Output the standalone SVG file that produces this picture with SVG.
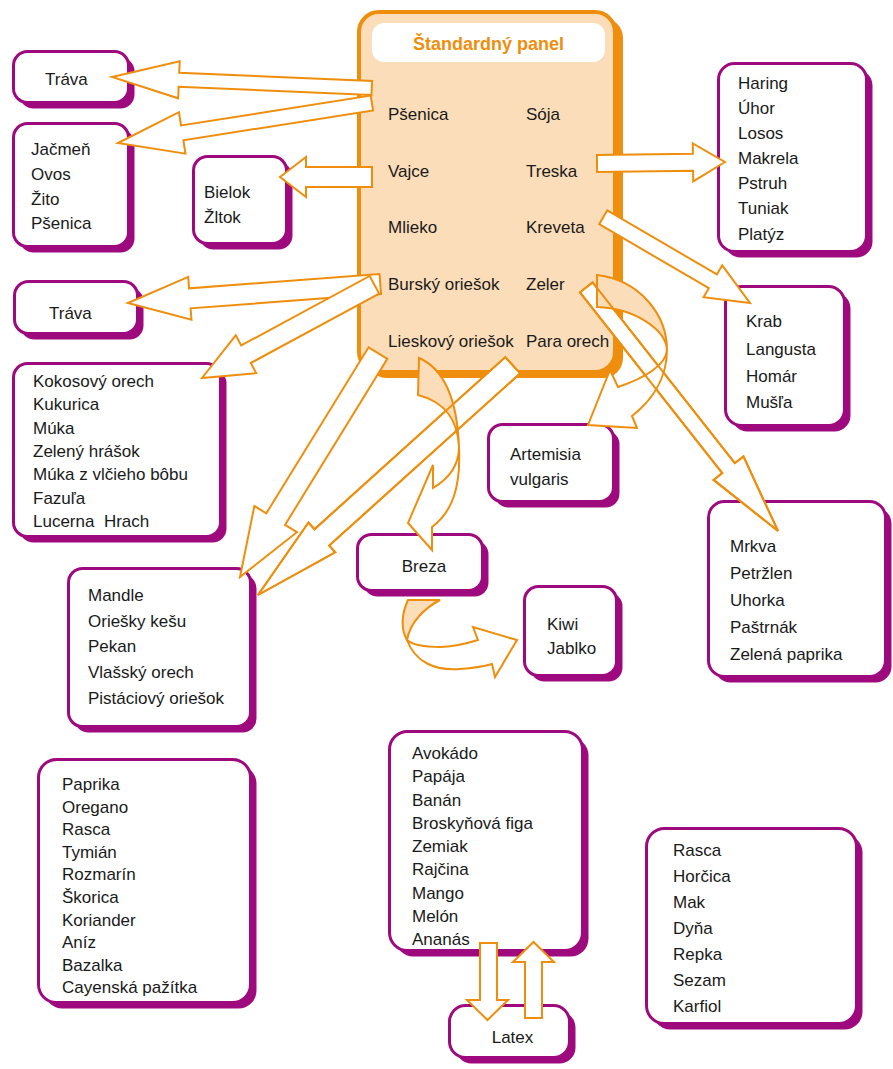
<svg xmlns="http://www.w3.org/2000/svg" xmlns:xlink="http://www.w3.org/1999/xlink" width="893" height="1069" viewBox="0 0 893 1069">
<style>
.sh{fill:#9E0A7E}
.bx{fill:#ffffff;stroke:#9E0A7E;stroke-width:3}
.t{font-family:"Liberation Sans",Arial,sans-serif;font-size:17px;fill:#1a1a1a}
.tc{text-anchor:middle}
.ttl{font-family:"Liberation Sans",Arial,sans-serif;font-size:18px;font-weight:bold;fill:#EF8E0C;text-anchor:middle}
.sa{fill:#ffffff;stroke:#EF8E0C;stroke-width:2;stroke-linejoin:miter}
.cp{fill:#FBDDB9;stroke:#EF8E0C;stroke-width:2}
.cw{fill:#ffffff;stroke:#EF8E0C;stroke-width:2}
.ol{fill:none;stroke:#EF8E0C;stroke-width:2}
</style>
<rect width="893" height="1069" fill="#ffffff"/>

<g id="panel">
  <rect x="367" y="18" width="256" height="360" rx="20" fill="#EF8E0C"/>
  <rect x="359" y="12" width="256" height="360" rx="20" fill="#FBDDB9" stroke="#EF8E0C" stroke-width="4"/>
  <rect x="372" y="23" width="233" height="39" rx="12" fill="#ffffff"/>
  <text class="ttl" x="488.5" y="50">Štandardný panel</text>
  <text class="t" x="388" y="120">Pšenica</text>
  <text class="t" x="388" y="177">Vajce</text>
  <text class="t" x="388" y="233">Mlieko</text>
  <text class="t" x="388" y="290">Burský oriešok</text>
  <text class="t" x="388" y="347">Lieskový oriešok</text>
  <text class="t" x="526" y="120">Sója</text>
  <text class="t" x="526" y="177">Treska</text>
  <text class="t" x="526" y="233">Kreveta</text>
  <text class="t" x="526" y="290">Zeler</text>
  <text class="t" x="526" y="347">Para orech</text>
</g>

<g id="trava1">
  <rect class="sh" x="19.5" y="57.5" width="115" height="51" rx="14"/>
  <rect class="bx" x="13.5" y="51.5" width="115" height="51" rx="14"/>
  <text class="t" x="45" y="85">Tráva</text>
</g>
<g id="obilniny">
  <rect class="sh" x="19.5" y="129.5" width="115" height="123" rx="14"/>
  <rect class="bx" x="13.5" y="123.5" width="115" height="123" rx="14"/>
  <text class="t" x="31" y="155">Jačmeň</text>
  <text class="t" x="31" y="180">Ovos</text>
  <text class="t" x="31" y="205">Žito</text>
  <text class="t" x="31" y="229">Pšenica</text>
</g>
<g id="bielok">
  <rect class="sh" x="199.5" y="162.5" width="93" height="87" rx="14"/>
  <rect class="bx" x="193.5" y="156.5" width="93" height="87" rx="14"/>
  <text class="t" x="204" y="198">Bielok</text>
  <text class="t" x="204" y="223">Žltok</text>
</g>
<g id="trava2">
  <rect class="sh" x="20.5" y="287.5" width="123" height="52" rx="14"/>
  <rect class="bx" x="14.5" y="281.5" width="123" height="52" rx="14"/>
  <text class="t" x="49" y="319">Tráva</text>
</g>
<g id="strukoviny">
  <rect class="sh" x="19.5" y="369.5" width="207" height="173" rx="14"/>
  <rect class="bx" x="13.5" y="363.5" width="207" height="173" rx="14"/>
  <text class="t" x="33" y="387">Kokosový orech</text>
  <text class="t" x="33" y="410.3">Kukurica</text>
  <text class="t" x="33" y="433.6">Múka</text>
  <text class="t" x="33" y="457">Zelený hrášok</text>
  <text class="t" x="33" y="480.3">Múka z vlčieho bôbu</text>
  <text class="t" x="33" y="503.6">Fazuľa</text>
  <text class="t" x="33" y="527" xml:space="preserve">Lucerna  Hrach</text>
</g>
<g id="orechy">
  <rect class="sh" x="74.5" y="574.5" width="182" height="158" rx="14"/>
  <rect class="bx" x="68.5" y="568.5" width="182" height="158" rx="14"/>
  <text class="t" x="88" y="601">Mandle</text>
  <text class="t" x="88" y="627">Oriešky kešu</text>
  <text class="t" x="88" y="652">Pekan</text>
  <text class="t" x="88" y="678">Vlašský orech</text>
  <text class="t" x="88" y="704">Pistáciový oriešok</text>
</g>
<g id="breza">
  <rect class="sh" x="363.5" y="540.5" width="125" height="56" rx="14"/>
  <rect class="bx" x="357.5" y="534.5" width="125" height="56" rx="14"/>
  <text class="t tc" x="424" y="572">Breza</text>
</g>
<g id="kiwi">
  <rect class="sh" x="530.5" y="592.5" width="92" height="89" rx="14"/>
  <rect class="bx" x="524.5" y="586.5" width="92" height="89" rx="14"/>
  <text class="t" x="547" y="630">Kiwi</text>
  <text class="t" x="547" y="654">Jablko</text>
</g>
<g id="artemisia">
  <rect class="sh" x="494.5" y="430.5" width="125" height="77" rx="14"/>
  <rect class="bx" x="488.5" y="424.5" width="125" height="77" rx="14"/>
  <text class="t" x="510" y="460">Artemisia</text>
  <text class="t" x="510" y="485">vulgaris</text>
</g>
<g id="ryby">
  <rect class="sh" x="724.5" y="69.5" width="148" height="188" rx="16"/>
  <rect class="bx" x="718.5" y="63.5" width="148" height="188" rx="16"/>
  <text class="t" x="738" y="89">Haring</text>
  <text class="t" x="738" y="114">Úhor</text>
  <text class="t" x="738" y="139">Losos</text>
  <text class="t" x="738" y="164">Makrela</text>
  <text class="t" x="738" y="189">Pstruh</text>
  <text class="t" x="738" y="214">Tuniak</text>
  <text class="t" x="738" y="240">Platýz</text>
</g>
<g id="korysy">
  <rect class="sh" x="731.5" y="292.5" width="119" height="139" rx="16"/>
  <rect class="bx" x="725.5" y="286.5" width="119" height="139" rx="16"/>
  <text class="t" x="746" y="327">Krab</text>
  <text class="t" x="746" y="355">Langusta</text>
  <text class="t" x="746" y="382">Homár</text>
  <text class="t" x="746" y="408">Mušľa</text>
</g>
<g id="zelenina">
  <rect class="sh" x="714.5" y="507.5" width="177" height="175" rx="16"/>
  <rect class="bx" x="708.5" y="501.5" width="177" height="175" rx="16"/>
  <text class="t" x="730" y="552">Mrkva</text>
  <text class="t" x="730" y="579">Petržlen</text>
  <text class="t" x="730" y="606">Uhorka</text>
  <text class="t" x="730" y="633">Paštrnák</text>
  <text class="t" x="730" y="660">Zelená paprika</text>
</g>
<g id="koreniny">
  <rect class="sh" x="44.5" y="765.5" width="212" height="243" rx="18"/>
  <rect class="bx" x="38.5" y="759.5" width="212" height="243" rx="18"/>
  <text class="t" x="62" y="790">Paprika</text>
  <text class="t" x="62" y="812.6">Oregano</text>
  <text class="t" x="62" y="835.2">Rasca</text>
  <text class="t" x="62" y="857.8">Tymián</text>
  <text class="t" x="62" y="880.4">Rozmarín</text>
  <text class="t" x="62" y="903">Škorica</text>
  <text class="t" x="62" y="925.6">Koriander</text>
  <text class="t" x="62" y="948.2">Aníz</text>
  <text class="t" x="62" y="970.8">Bazalka</text>
  <text class="t" x="62" y="993.4">Cayenská pažítka</text>
</g>
<g id="ovocie">
  <rect class="sh" x="395.5" y="737.5" width="193" height="219" rx="18"/>
  <rect class="bx" x="389.5" y="731.5" width="193" height="219" rx="18"/>
  <text class="t" x="412" y="759">Avokádo</text>
  <text class="t" x="412" y="782.2">Papája</text>
  <text class="t" x="412" y="805.5">Banán</text>
  <text class="t" x="412" y="828.7">Broskyňová figa</text>
  <text class="t" x="412" y="852">Zemiak</text>
  <text class="t" x="412" y="875.2">Rajčina</text>
  <text class="t" x="412" y="898.5">Mango</text>
  <text class="t" x="412" y="921.7">Melón</text>
  <text class="t" x="412" y="945">Ananás</text>
</g>
<g id="latex">
  <rect class="sh" x="455.5" y="1011.5" width="120" height="52" rx="16"/>
  <rect class="bx" x="449.5" y="1005.5" width="120" height="52" rx="16"/>
  <text class="t tc" x="512.5" y="1043">Latex</text>
</g>
<g id="semena">
  <rect class="sh" x="652.5" y="834.5" width="210" height="195" rx="18"/>
  <rect class="bx" x="646.5" y="828.5" width="210" height="195" rx="18"/>
  <text class="t" x="673" y="856">Rasca</text>
  <text class="t" x="673" y="882">Horčica</text>
  <text class="t" x="673" y="908">Mak</text>
  <text class="t" x="673" y="934">Dyňa</text>
  <text class="t" x="673" y="960">Repka</text>
  <text class="t" x="673" y="986">Sezam</text>
  <text class="t" x="673" y="1012">Karfiol</text>
</g>

<g id="connectors">
  <g class="sa">
    <polygon transform="translate(112 77) rotate(2.42)" points="0,0 67,-18.5 67,-7 260,-7 260,7 67,7 67,18.5"/>
    <polygon transform="translate(118 143) rotate(-8.95)" points="0,0 65,-21 65,-7.5 257,-7.5 257,7.5 65,7.5 65,21"/>
    <polygon transform="translate(280 177)" points="0,0 26,-20 26,-10 92,-10 92,10 26,10 26,20"/>
    <polygon transform="translate(128 303) rotate(-4.31)" points="0,0 62,-21.5 62,-10 253,-10 253,10 62,10 62,21.5"/>
    <polygon transform="translate(202 378) rotate(-28.4)" points="0,0 50,-21.5 50,-10 196,-10 196,10 50,10 50,21.5"/>
    <polygon transform="translate(240 577) rotate(-58.36)" points="0,0 68,-25 68,-11 263,-11 263,11 68,11 68,25"/>
    <polygon id="a7" transform="translate(258 595) rotate(-42.05)" points="0,0 86,-20 86,-11 343,-11 343,11 86,11 86,20"/>
    <polygon transform="translate(725 162) rotate(179.33)" points="0,0 32,-19 32,-8.5 128,-8.5 128,8.5 32,8.5 32,19"/>
    <polygon transform="translate(750 303) rotate(-149.7)" points="0,0 43,-18.5 43,-8 170,-8 170,8 43,8 43,18.5"/>
    <polygon id="a10" transform="translate(778 531) rotate(-128.2)" points="0,0 80,-19 80,-8 310,-8 310,8 80,8 80,19"/>
    <polygon points="480,943 497,943 497,1000 508,1000 487.5,1020 467,1000 480,1000"/>
    <polygon points="525,1018 542,1018 542,962 554,962 533.5,942 513,962 525,962"/>
  </g>
  <path class="cp" d="M 597,275 C 640,280 667,315 667,350 C 666,330 635,308 597,307 Z"/>
  <path class="cw" d="M 667,350 C 667,380 650,402 632,416 L 637,428 L 588,425 L 610,370 L 618,387 C 645,378 666,365 667,350 Z"/>
  <path class="cp" d="M 419,358 C 442,368 457,395 459,447 C 458,422 446,402 418,395 Z"/>
  <path class="cw" d="M 459,447 C 461,488 452,512 432,527 L 432,550 L 408,523 L 433,465 L 433,488 C 450,478 459,465 459,447 Z"/>
  <path class="cp" d="M 408,600 C 401,615 401,630 407,640 C 410,622 425,608 440,600 Z"/>
  <path class="cw" d="M 407,640 C 415,662 435,671 460,669 C 475,668 485,666 492,664 L 495,677 L 517,640 L 473,627 L 478,640 C 465,644 452,647 440,647 C 425,647 413,645 407,640 Z"/>
  <use xlink:href="#a7" href="#a7" class="ol"/>
  <use xlink:href="#a10" href="#a10" class="ol"/>
</g>
</svg>
